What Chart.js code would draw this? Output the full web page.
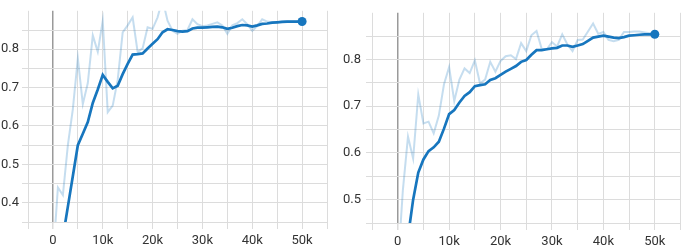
<!DOCTYPE html>
<html>
<head>
<meta charset="utf-8">
<script src="https://cdn.jsdelivr.net/npm/chart.js@4"></script>
<style>
  body { margin: 0; background: #fff; }
  canvas { position: absolute; top: 0; }
  #leftChart { left: 0; }
  #rightChart { left: 338px; }
</style>
</head>
<body>
<canvas id="leftChart" width="338" height="249"></canvas>
<canvas id="rightChart" width="347" height="249"></canvas>
<script>
"use strict";
// steps in thousands, one value per 1k step
const steps = [0, 1, 2, 3, 4, 5, 6, 7, 8, 9, 10, 11, 12, 13, 14, 15, 16, 17, 18, 19, 20,
  21, 22, 23, 24, 25, 26, 27, 28, 29, 30, 31, 32, 33, 34, 35, 36, 37, 38, 39, 40,
  41, 42, 43, 44, 45, 46, 47, 48, 49, 50];

const leftRaw = [0.25, 0.44, 0.42, 0.55, 0.644, 0.776, 0.657, 0.712, 0.836, 0.793, 0.874,
  0.636, 0.653, 0.72, 0.844, 0.862, 0.883, 0.793, 0.802, 0.857, 0.853,
  0.883, 0.93, 0.874, 0.848, 0.84, 0.848, 0.85, 0.878, 0.865, 0.86,
  0.862, 0.866, 0.87, 0.862, 0.84, 0.862, 0.868, 0.878, 0.865, 0.848,
  0.86, 0.878, 0.872, 0.87, 0.87, 0.872, 0.873, 0.872, 0.873, 0.872];
const leftSmooth = [0.22, 0.26, 0.31, 0.39, 0.47, 0.55, 0.58, 0.61, 0.66, 0.695, 0.733,
  0.715, 0.698, 0.705, 0.735, 0.762, 0.786, 0.787, 0.789, 0.802, 0.814,
  0.826, 0.844, 0.852, 0.85, 0.847, 0.846, 0.847, 0.854, 0.856, 0.856,
  0.857, 0.858, 0.859, 0.857, 0.853, 0.856, 0.86, 0.863, 0.862, 0.859,
  0.862, 0.866, 0.867, 0.869, 0.87, 0.871, 0.872, 0.872, 0.872, 0.872];

const rightRaw = [0.35, 0.52, 0.635, 0.588, 0.725, 0.663, 0.667, 0.642, 0.68, 0.747, 0.784,
  0.711, 0.757, 0.781, 0.771, 0.798, 0.749, 0.757, 0.795, 0.774, 0.797,
  0.807, 0.809, 0.801, 0.835, 0.818, 0.852, 0.861, 0.823, 0.822, 0.837,
  0.828, 0.854, 0.832, 0.818, 0.842, 0.843, 0.86, 0.877, 0.855, 0.859,
  0.842, 0.839, 0.842, 0.859, 0.859, 0.86, 0.86, 0.858, 0.856, 0.854];
const rightSmooth = [0.3, 0.34, 0.42, 0.5, 0.558, 0.586, 0.604, 0.612, 0.624, 0.652, 0.683,
  0.692, 0.708, 0.722, 0.73, 0.743, 0.745, 0.747, 0.756, 0.76, 0.767,
  0.774, 0.78, 0.786, 0.795, 0.799, 0.81, 0.82, 0.82, 0.822, 0.824,
  0.825, 0.83, 0.83, 0.827, 0.83, 0.833, 0.84, 0.847, 0.849, 0.851,
  0.849, 0.847, 0.846, 0.848, 0.851, 0.852, 0.853, 0.854, 0.854, 0.854];

const xTickLabels = ["0", "10k", "20k", "30k", "40k", "50k"];
const yTickLabels = ["0.4", "0.5", "0.6", "0.7", "0.8"];

const lineColor = "#1776be";
const rawColor = "rgba(23, 118, 190, 0.25)";
const gridColor = "#dcdcdc";
const zeroColor = "#9a9a9a";

function toPoints(vals) {
  return steps.map((s, i) => ({ x: s * 1000, y: vals[i] }));
}

function makeChart(id, raw, smooth, opts) {
  const lastIdx = smooth.length - 1;
  return new Chart(document.getElementById(id), {
    type: "line",
    data: {
      datasets: [
        {
          data: toPoints(raw),
          borderColor: rawColor,
          borderWidth: 2,
          pointRadius: 0,
          tension: 0,
        },
        {
          data: toPoints(smooth),
          borderColor: lineColor,
          backgroundColor: lineColor,
          borderWidth: 2.7,
          pointRadius: (ctx) => (ctx.dataIndex === lastIdx ? 4.5 : 0),
          pointBorderWidth: 0,
          tension: 0,
        },
      ],
    },
    options: {
      responsive: false,
      animation: false,
      events: [],
      layout: { padding: { top: opts.top, right: opts.right, left: 0, bottom: 0 } },
      plugins: { legend: { display: false }, tooltip: { enabled: false } },
      scales: {
        x: {
          type: "linear",
          min: -5000,
          max: 55000,
          offset: false,
          border: { display: false },
          afterFit: (scale) => { scale.height = opts.xHeight; },
          grid: {
            tickLength: 7,
            color: (ctx) => (ctx.tick && ctx.tick.value === 0 ? zeroColor : gridColor),
            lineWidth: (ctx) => (ctx.tick && ctx.tick.value === 0 ? 1.5 : 1),
            tickColor: gridColor,
          },
          ticks: {
            stepSize: 5000,
            autoSkip: false,
            maxRotation: 0,
            padding: 4,
            color: "#333",
            font: { family: "Roboto", size: 13 },
            callback: (v) => {
              const k = Math.round(v / 1000);
              if (k < 0 || k % 10 !== 0) return "";
              return xTickLabels[k / 10];
            },
          },
        },
        y: {
          min: opts.yMin,
          max: 0.9,
          border: { display: false },
          afterFit: (scale) => { scale.width = opts.yWidth; },
          grid: {
            tickLength: 6,
            color: (ctx) => (ctx.tick && Math.round(ctx.tick.value * 100) === 90 ? "rgba(0,0,0,0)" : gridColor),
            tickColor: (ctx) => (ctx.tick && Math.round(ctx.tick.value * 100) === 90 ? "rgba(0,0,0,0)" : gridColor),
          },
          ticks: {
            stepSize: 0.05,
            autoSkip: false,
            padding: opts.yPad,
            color: "#333",
            font: { family: "Roboto", size: 13 },
            callback: (v) => {
              const h = Math.round(v * 100);
              if (h % 10 !== 0) return "";
              const idx = h / 10 - 4;
              return yTickLabels[idx] || "";
            },
          },
        },
      },
    },
  });
}

makeChart("leftChart", leftRaw, leftSmooth, { top: 5, right: 11, xHeight: 27, yWidth: 28, yPad: 3, yMin: 0.35 });
makeChart("rightChart", rightRaw, rightSmooth, { top: 1, right: 0, xHeight: 26, yWidth: 34, yPad: 5, yMin: 0.45 });
</script>
</body>
</html>
